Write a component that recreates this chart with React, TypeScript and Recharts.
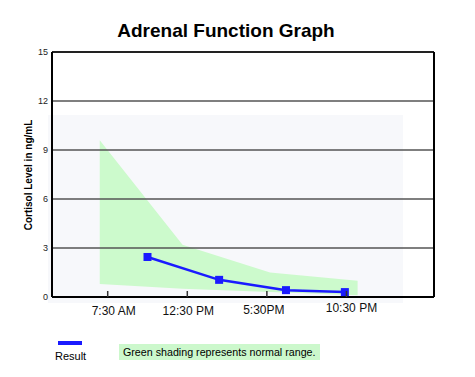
import React from 'react';
import {
  ComposedChart,
  Area,
  Line,
  XAxis,
  YAxis,
  ReferenceArea,
  ReferenceLine,
} from 'recharts';

// time of day in hours (24h clock, values past 24 run into the next day)
const bandHours = [7, 12.2, 17.7, 23.2];
const bandLow = [0.8, 0.5, 0.3, 0.1];
const bandHigh = [9.6, 3.2, 1.5, 1.0];

const resultHours = [10, 14.5, 18.7, 22.4];
const resultValues = [2.45, 1.05, 0.42, 0.3];

const xTicks = [7.5, 12.5, 17.5, 22.5];
const xTickLabels = ['7:30 AM', '12:30 PM', '5:30PM', '10:30 PM'];
const yTicks = [0, 3, 6, 9, 12, 15];
const gridValues = [3, 6, 9, 12, 15];

const bandData = bandHours.map((h, i) => ({ hour: h, range: [bandLow[i], bandHigh[i]] }));
const resultData = resultHours.map((h, i) => ({ hour: h, cortisol: resultValues[i] }));

const FONT = '"Liberation Sans", Arial, Helvetica, sans-serif';
const labelShift = [6, 1, -3, 5];
const labelLift = [0, 0, -1, -3];

const XTick = (props: any) => {
  const { x, y, payload, index } = props;
  return (
    <g>
      <line x1={x} x2={x} y1={y - 6} y2={y} stroke="#333" strokeWidth={1.5} />
      <text
        x={x + labelShift[index]}
        y={y + 18 + labelLift[index]}
        textAnchor="middle"
        fontSize={12}
        fill="#111"
      >
        {xTickLabels[xTicks.indexOf(payload.value)]}
      </text>
    </g>
  );
};

const SquareDot = (props: any) => {
  const { cx, cy } = props;
  if (cx == null || cy == null) return null;
  return <rect x={cx - 4} y={cy - 4} width={8} height={8} fill="#1a1aff" />;
};

const App: React.FC = () => {
  return (
    <div
      style={{
        position: 'absolute',
        left: 0,
        top: 0,
        width: 475,
        height: 377,
        background: '#fff',
        fontFamily: FONT,
      }}
    >
      <div
        style={{
          position: 'absolute',
          left: 0,
          width: 452,
          top: 20,
          textAlign: 'center',
          fontSize: 19,
          fontWeight: 'bold',
          color: '#000',
        }}
      >
        Adrenal Function Graph
      </div>

      <div
        style={{
          position: 'absolute',
          left: 29 - 80,
          top: 175 - 8,
          width: 160,
          height: 16,
          lineHeight: '16px',
          textAlign: 'center',
          transform: 'rotate(-90deg)',
          fontSize: 10,
          fontWeight: 'bold',
          color: '#000',
        }}
      >
        Cortisol Level in ng/mL
      </div>

      <div style={{ position: 'absolute', left: 0, top: 0 }}>
        <ComposedChart
          width={475}
          height={377}
          margin={{ top: 52, right: 41, bottom: 55, left: 32 }}
          style={{ fontFamily: FONT }}
        >
          <XAxis
            dataKey="hour"
            type="number"
            domain={[4, 28]}
            ticks={xTicks}
            allowDataOverflow
            axisLine={{ stroke: '#000', strokeWidth: 2 }}
            tickLine={false}
            tickSize={0}
            tickMargin={0}
            height={25}
            tick={<XTick />}
          />
          <YAxis
            type="number"
            domain={[0, 15]}
            ticks={yTicks}
            width={20}
            axisLine={{ stroke: '#000', strokeWidth: 2 }}
            tickLine={false}
            tickSize={0}
            tickMargin={4}
            tick={{ fontSize: 9, fill: '#222' }}
          />
          <ReferenceArea
            x1={3.75}
            x2={26.05}
            y1={-0.37}
            y2={11.14}
            ifOverflow="visible"
            fill="#f7f8fb"
            fillOpacity={1}
            stroke="none"
          />
          <Area
            data={bandData}
            dataKey="range"
            type="linear"
            stroke="none"
            fill="#ccfacc"
            fillOpacity={1}
            isAnimationActive={false}
            activeDot={false}
            dot={false}
          />
          {gridValues.map((v) => (
            <ReferenceLine
              key={v}
              y={v}
              stroke={v === 15 ? '#222' : '#555'}
              strokeWidth={v === 15 ? 2 : 1.5}
            />
          ))}
          <ReferenceLine x={28} stroke="#000" strokeWidth={2} />
          <Line
            data={resultData}
            dataKey="cortisol"
            type="linear"
            stroke="#1a1aff"
            strokeWidth={2.5}
            dot={<SquareDot />}
            activeDot={false}
            isAnimationActive={false}
          />
        </ComposedChart>
      </div>

      <div
        style={{
          position: 'absolute',
          left: 58,
          top: 341,
          width: 24,
          height: 4,
          background: '#1a1aff',
        }}
      />
      <div style={{ position: 'absolute', left: 55, top: 350, fontSize: 11, color: '#000' }}>
        Result
      </div>
      <div
        style={{
          position: 'absolute',
          left: 119,
          top: 344,
          width: 201,
          height: 16,
          lineHeight: '16px',
          background: '#ccf8cc',
          fontSize: 10.7,
          color: '#000',
          paddingLeft: 4,
          boxSizing: 'border-box',
        }}
      >
        Green shading represents normal range.
      </div>
    </div>
  );
};

export default App;
